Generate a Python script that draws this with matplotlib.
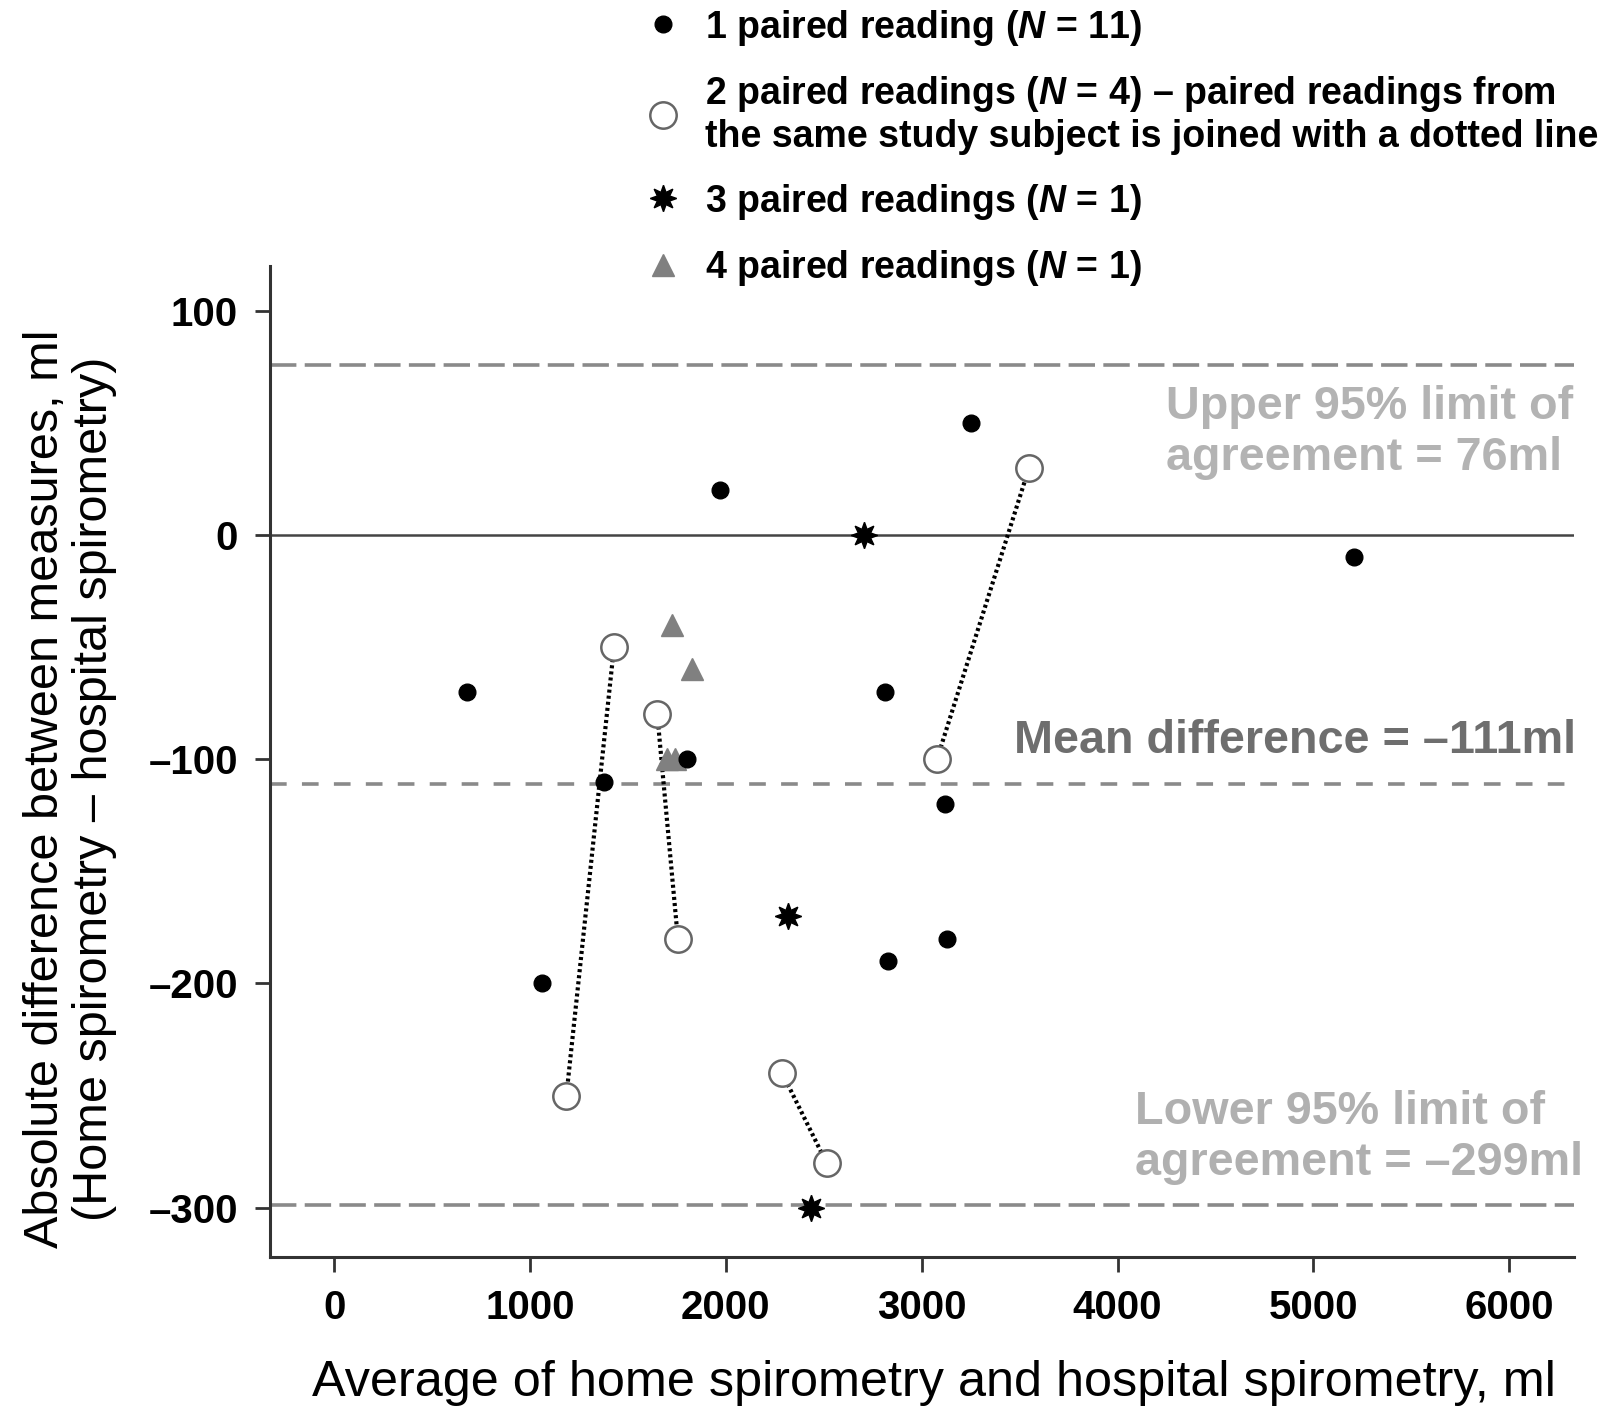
import matplotlib
matplotlib.use("Agg")
import matplotlib.pyplot as plt
from matplotlib.lines import Line2D
from matplotlib.ticker import FuncFormatter

plt.rcParams['font.family'] = ['Liberation Sans', 'DejaVu Sans']
plt.rcParams['mathtext.fontset'] = 'custom'
plt.rcParams['mathtext.it'] = 'Liberation Sans:italic:bold'
plt.rcParams['mathtext.rm'] = 'Liberation Sans:bold'
plt.rcParams['lines.scale_dashes'] = False

# ---- data ----
one_x = [680, 1060, 1376, 1972, 1803, 2815, 2826, 3253, 3121, 3131, 5208]
one_y = [-70, -200, -110, 20, -100, -70, -190, 50, -120, -180, -10]

# pairs of readings (each subject: two points)
two_x = [[1429, 1186], [1650, 1755], [2288, 2514], [3078, 3548]]
two_y = [[-50, -250], [-80, -180], [-240, -280], [-100, 30]]

three_x = [2704, 2319, 2435]
three_y = [0, -170, -300]

four_x = [1724, 1829, 1700, 1742]
four_y = [-40, -60, -100, -100]

upper_loa = 76
mean_diff = -111
lower_loa = -299

xticks = [0, 1000, 2000, 3000, 4000, 5000, 6000]
yticks = [100, 0, -100, -200, -300]

legend_labels = [
    "1 paired reading ($N$ = 11)",
    "2 paired readings ($N$ = 4) \u2013 paired readings from\nthe same study subject is joined with a dotted line",
    "3 paired readings ($N$ = 1)",
    "4 paired readings ($N$ = 1)",
]

# ---- figure ----
fig = plt.figure(figsize=(16.18, 14.14), dpi=100)
ax = fig.add_axes([0.1669, 0.111, 0.806, 0.701])
ax.set_xlim(-327, 6331)
ax.set_ylim(-322, 120)

for s in ['top', 'right']:
    ax.spines[s].set_visible(False)
for s in ['left', 'bottom']:
    ax.spines[s].set_linewidth(2.2)
    ax.spines[s].set_color('#333333')

# reference lines
ax.axhline(0, color='#444444', lw=1.8, zorder=1)
ax.axhline(upper_loa, color='#8a8a8a', lw=2.6, dashes=(19, 6), zorder=1)
ax.axhline(lower_loa, color='#8a8a8a', lw=2.6, dashes=(19, 6), zorder=1)
ax.axhline(mean_diff, color='#8a8a8a', lw=2.6, dashes=(12, 11), zorder=1)

# dotted connectors + paired open circles
for px, py in zip(two_x, two_y):
    ax.plot(px, py, color='black', lw=3.0, dashes=(2.2, 2.2),
            dash_capstyle='butt', zorder=2)
    ax.plot(px, py, ls='none', marker='o', ms=19, mfc='white', mec='#666666', mew=1.8, zorder=4)

ax.plot(four_x, four_y, ls='none', marker='^', ms=16, color='#808080', mec='#808080', zorder=3)
ax.plot(one_x, one_y, ls='none', marker='o', ms=12, color='black', zorder=5)
ax.plot(three_x, three_y, ls='none', marker=(8, 1, 0), ms=19, color='black', zorder=5)

# annotations
ax.text(4249, 45.7, "Upper 95% limit of\nagreement = 76ml", ha='left', va='center',
        fontsize=33.7, fontweight='bold', color='#b3b3b3', linespacing=1.22, clip_on=False)
ax.text(3469, -91.8, "Mean difference = \u2013111ml", ha='left', va='center',
        fontsize=33.7, fontweight='bold', color='#6e6e6e', clip_on=False)
ax.text(4091, -268.6, "Lower 95% limit of\nagreement = \u2013299ml", ha='left', va='center',
        fontsize=33.7, fontweight='bold', color='#b0b0b0', linespacing=1.22, clip_on=False)

# ticks
ax.set_xticks(xticks)
ax.set_yticks(yticks)
ax.xaxis.set_major_formatter(FuncFormatter(lambda v, p: f"{int(v)}"))
ax.yaxis.set_major_formatter(FuncFormatter(lambda v, p: ("\u2013" if v < 0 else "") + f"{abs(int(v))}"))
ax.tick_params(axis='both', direction='out', length=11, width=2, color='#333333',
               labelsize=29, pad=12)
for lab in ax.get_xticklabels() + ax.get_yticklabels():
    lab.set_fontweight('bold')

# axis labels
fig.text(0.577, 0.022, "Average of home spirometry and hospital spirometry, ml",
         ha='center', va='center', fontsize=36.3)
fig.text(0.0435, 0.442, "Absolute difference between measures, ml\n(Home spirometry \u2013 hospital spirometry)",
         ha='center', va='center', rotation=90, fontsize=35, linespacing=1.12)

# legend
handles = [
    Line2D([], [], ls='none', marker='o', ms=12, color='black'),
    Line2D([], [], ls='none', marker='o', ms=19, mfc='white', mec='#666666', mew=1.8),
    Line2D([], [], ls='none', marker=(8, 1, 0), ms=19, color='black'),
    Line2D([], [], ls='none', marker='^', ms=16, color='#808080'),
]
leg = ax.legend(handles, legend_labels, loc='upper left', bbox_to_anchor=(0.3937, 1.0),
                bbox_transform=fig.transFigure, frameon=False,
                prop={'size': 27, 'weight': 'bold'}, labelspacing=0.7,
                handletextpad=0.61, handlelength=1.0, borderaxespad=0.0, borderpad=0.2)

fig.savefig("out.png", dpi=100)
